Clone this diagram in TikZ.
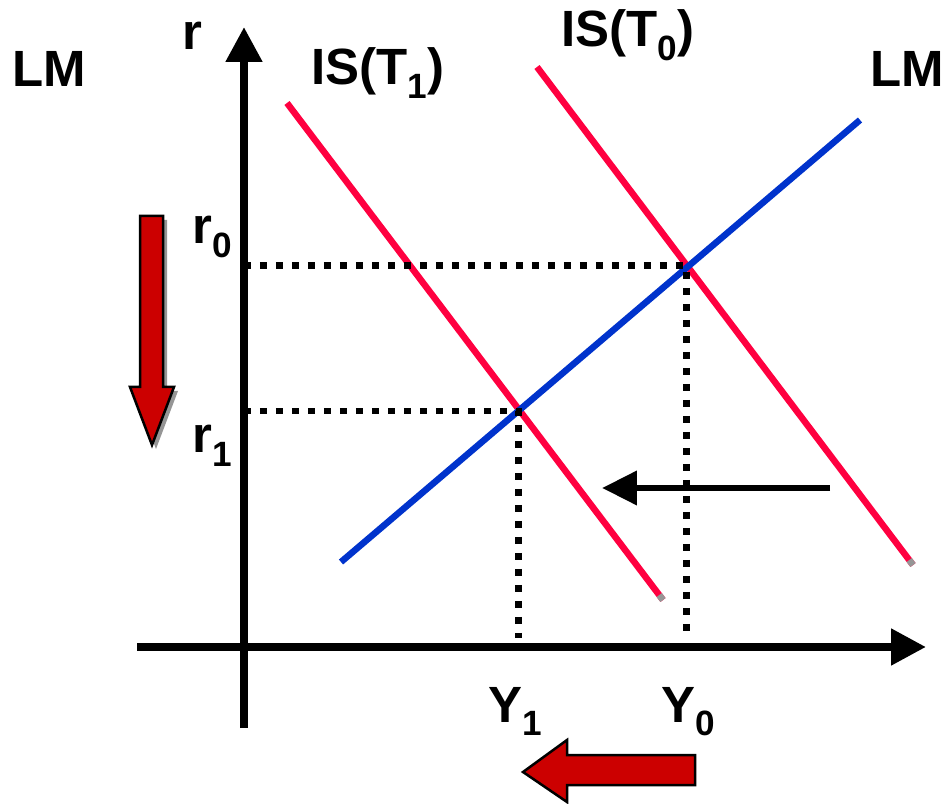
\documentclass[tikz,border=0pt]{standalone}
\usepackage{fontspec}
\setmainfont{Liberation Sans}
\usetikzlibrary{arrows.meta,calc}
\definecolor{corIS}{RGB}{255,0,64}
\definecolor{corLM}{RGB}{0,51,204}
\definecolor{corseta}{RGB}{204,0,0}
\definecolor{corsombra}{RGB}{150,150,150}
\newcommand{\indice}[1]{\raisebox{-7.8pt}{\fontsize{20}{20}\selectfont #1}}

\begin{document}
\begin{tikzpicture}[
  x=0.02cm, y=-0.02cm,
  rotulo/.style={font=\fontsize{29}{29}\selectfont\bfseries, inner sep=0pt, anchor=base west},
  eixo/.style={line width=0.16cm, -{Triangle[length=0.7cm,width=0.7cm]}},
  curvaIS/.style={corIS, line width=0.13cm},
  curvaLM/.style={corLM, line width=0.13cm},
  ponta/.style={corsombra, line width=0.13cm},
  pontilhado/.style={line width=0.14cm, dash pattern=on 0.14cm off 0.18cm},
  desloca/.style={line width=0.14cm, -{Triangle[length=0.7cm,width=0.66cm]}},
  setagrossa/.style={fill=corseta, draw=black, line width=0.05cm, line join=miter}
]
  \useasboundingbox (0,0) rectangle (944,804);

  % eixos
  \coordinate (ybase) at (244,728);
  \coordinate (ytopo) at (244,27);
  \coordinate (xbase) at (137,647);
  \coordinate (xfim)  at (926,647);
  \draw[eixo] (ybase) -- (ytopo);
  \draw[eixo] (xbase) -- (xfim);

  % curvas IS e LM
  \coordinate (is1a) at (287,103);
  \coordinate (is1b) at (663,600);
  \coordinate (is0a) at (537,67);
  \coordinate (is0b) at (913,565);
  \coordinate (lma)  at (341,562);
  \coordinate (lmb)  at (860,120);
  \draw[curvaIS] (is1a) -- (is1b);
  \draw[curvaIS] (is0a) -- (is0b);
  \draw[ponta] ($(is1a)!0.99!(is1b)$) -- (is1b);
  \draw[ponta] ($(is0a)!0.99!(is0b)$) -- (is0b);
  \draw[curvaLM] (lma) -- (lmb);

  % equilibrios
  \coordinate (e0) at (686,266);
  \coordinate (e1) at (518,411);
  \coordinate (r0eixo) at (244,266);
  \coordinate (r1eixo) at (244,411);
  \coordinate (y0eixo) at (686,638);
  \coordinate (y1eixo) at (518,638);
  \draw[pontilhado] (r0eixo) -- (e0) -- (y0eixo);
  \draw[pontilhado] (r1eixo) -- (e1) -- (y1eixo);

  % deslocamento da IS
  \coordinate (desini) at (830,488);
  \coordinate (desfim) at (602,488);
  \draw[desloca] (desini) -- (desfim);

  % setas grossas
  \fill[corsombra] (144,220) -- (167,220) -- (167,391) -- (178,391) -- (156,449)
    -- (134,391) -- (144,391) -- cycle;
  \draw[setagrossa] (140,216) -- (163,216) -- (163,387) -- (174,387) -- (152,445)
    -- (130,387) -- (140,387) -- cycle;
  \draw[setagrossa] (695,755) -- (567,755) -- (567,740) -- (523,772) -- (567,802)
    -- (567,785) -- (695,785) -- cycle;

  % rotulos
  \node[rotulo] (lmesq) at (12,87) {LM};
  \node[rotulo] (lmdir) at (870,87) {LM};
  \node[rotulo] (ist1) at (311,85) {IS(T\indice{1})};
  \node[rotulo] (ist0) at (561,47) {IS(T\indice{0})};
  \node[rotulo] (rlab) at (182,50) {r};
  \node[rotulo] (r0lab) at (192,244) {r\indice{0}};
  \node[rotulo] (r1lab) at (192,453) {r\indice{1}};
  \node[rotulo] (y1lab) at (488,722) {Y\indice{1}};
  \node[rotulo] (y0lab) at (661,722) {Y\indice{0}};
\end{tikzpicture}
\end{document}
